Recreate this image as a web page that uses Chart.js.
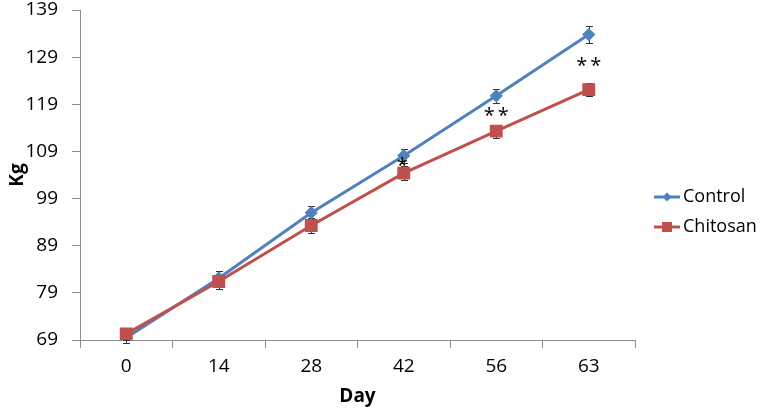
<html><head>
<meta charset="UTF-8">
<title>Weight over time</title>
<style>
  body { margin: 0; padding: 0; background: #fff; }
  #wrap { width: 760px; height: 412px; }
</style>
<script src="https://cdn.jsdelivr.net/npm/chart.js"></script>
</head>
<body>
<div id="wrap"><canvas id="weightChart" width="760" height="412"></canvas></div>
<script>
  // values
  const days = ['0', '14', '28', '42', '56', '63'];
  const control = [69.5, 82.1, 96.0, 108.1, 120.8, 133.8];
  const chitosan = [70.3, 81.4, 93.3, 104.4, 113.3, 122.1];
  const controlErr = [1.2, 1.5, 1.4, 1.5, 1.5, 1.8];
  const chitosanErr = [1.3, 1.5, 1.5, 1.5, 1.4, 1.4];
  const sigMarks = ['', '', '', '*', '**', '**'];
  const sigLevel = [null, null, null, 106.5, 117.0, 127.6];
  const yTicks = [69, 79, 89, 99, 109, 119, 129, 139];

  const FONT = "'Open Sans', sans-serif";
  const axisGray = '#8c8c8c';
  const plotRight = 635;

  function legendIcon(color, style) {
    const c = document.createElement('canvas');
    c.width = 26; c.height = 14;
    const g = c.getContext('2d');
    g.strokeStyle = color;
    g.lineWidth = 3;
    g.beginPath(); g.moveTo(0, 7); g.lineTo(26, 7); g.stroke();
    g.fillStyle = color;
    if (style === 'diamond') {
      g.beginPath(); g.moveTo(13, 2.5); g.lineTo(17.5, 7); g.lineTo(13, 11.5); g.lineTo(8.5, 7); g.closePath(); g.fill();
    } else {
      g.fillRect(8, 2, 10, 10);
    }
    return c;
  }

  // error bars go under the markers
  const errorBars = {
    id: 'errorBars',
    beforeDatasetsDraw(chart) {
      const ctx = chart.ctx;
      const y = chart.scales.y;
      const errs = [controlErr, chitosanErr];
      ctx.save();
      ctx.strokeStyle = '#333';
      ctx.lineWidth = 1;
      chart.data.datasets.forEach((ds, i) => {
        const meta = chart.getDatasetMeta(i);
        meta.data.forEach((pt, j) => {
          const v = ds.data[j], e = errs[i][j];
          const top = Math.round(y.getPixelForValue(v + e)) + 0.5;
          const bot = Math.round(y.getPixelForValue(v - e)) + 0.5;
          const x = Math.round(pt.x) + 0.5;
          ctx.beginPath();
          ctx.moveTo(x, top); ctx.lineTo(x, bot);
          ctx.moveTo(x - 3.5, top); ctx.lineTo(x + 3.5, top);
          ctx.moveTo(x - 3.5, bot); ctx.lineTo(x + 3.5, bot);
          ctx.stroke();
        });
      });
      ctx.restore();
    }
  };

  const sigLabels = {
    id: 'sigLabels',
    afterDatasetsDraw(chart) {
      const ctx = chart.ctx;
      const x = chart.scales.x, y = chart.scales.y;
      ctx.save();
      ctx.fillStyle = '#000';
      ctx.font = "20px " + FONT;
      ctx.textAlign = 'center';
      ctx.textBaseline = 'middle';
      if ('letterSpacing' in ctx) ctx.letterSpacing = '3px';
      sigMarks.forEach((m, j) => {
        if (!m) return;
        ctx.fillText(m, x.getPixelForValue(j) + (m.length > 1 ? 1.5 : 0), y.getPixelForValue(sigLevel[j]) + 3);
      });
      ctx.restore();
    }
  };

  // keep the legend off the plot area and nudge its items like the original
  const legendPlace = {
    id: 'legendPlace',
    beforeUpdate(chart) {
      const lg = chart.legend;
      if (!lg || lg._placed) return;
      lg._placed = true;
      const fit = lg.fit, draw = lg.draw;
      lg.fit = function () {
        fit.call(this);
        this.width = chart.width - plotRight;
      };
      lg.draw = function () {
        const c = this.ctx;
        c.save();
        c.translate(13, 6);
        draw.call(this);
        c.restore();
      };
    }
  };

  const ctx = document.getElementById('weightChart').getContext('2d');
  new Chart(ctx, {
    type: 'line',
    data: {
      labels: days,
      datasets: [
        {
          label: 'Control',
          data: control,
          borderColor: '#4f81bd',
          backgroundColor: '#4f81bd',
          borderWidth: 3,
          pointStyle: 'rectRot',
          pointRadius: 4.5,
          tension: 0,
          order: 1
        },
        {
          label: 'Chitosan',
          data: chitosan,
          borderColor: '#c0504d',
          backgroundColor: '#c0504d',
          borderWidth: 3,
          pointStyle: 'rect',
          pointRadius: 7,
          tension: 0,
          order: 0
        }
      ]
    },
    options: {
      responsive: false,
      animation: false,
      layout: { padding: 0 },
      scales: {
        x: {
          type: 'category',
          offset: true,
          afterFit(scale) { scale.height = 72; },
          grid: { display: true, drawOnChartArea: false, offset: true, tickLength: 8, color: axisGray },
          border: { color: axisGray },
          ticks: { color: '#000', font: { family: FONT, size: 19 }, padding: 7 },
          title: { display: true, text: 'Day', color: '#000', font: { family: FONT, size: 19, weight: 'bold' }, padding: { top: 0, bottom: 4 } }
        },
        y: {
          min: 69,
          max: 139,
          afterBuildTicks(scale) { scale.ticks = yTicks.map(v => ({ value: v })); },
          afterFit(scale) {
            scale.width = 80;
            scale.paddingTop = 10;
            scale.paddingBottom = 0;
          },
          grid: { display: true, drawOnChartArea: false, tickLength: 8, color: axisGray },
          border: { color: axisGray },
          ticks: { color: '#000', font: { family: FONT, size: 19, lineHeight: 1 }, padding: 14 },
          title: { display: true, text: 'Kg', color: '#000', font: { family: FONT, size: 19, weight: 'bold' }, padding: { top: 6, bottom: 0 } }
        }
      },
      plugins: {
        legend: {
          position: 'right',
          labels: {
            usePointStyle: true,
            pointStyleWidth: 14,
            color: '#000',
            font: { family: FONT, size: 18 },
            padding: 12,
            generateLabels(chart) {
              const icons = [legendIcon('#4f81bd', 'diamond'), legendIcon('#c0504d', 'square')];
              return chart.data.datasets.map((ds, i) => ({
                text: ds.label,
                fillStyle: ds.backgroundColor,
                strokeStyle: ds.borderColor,
                lineWidth: 0,
                pointStyle: icons[i],
                fontColor: '#000',
                datasetIndex: i,
                hidden: false
              }));
            }
          }
        },
        tooltip: { enabled: false }
      }
    },
    plugins: [errorBars, sigLabels, legendPlace]
  });
</script>
</body></html>
